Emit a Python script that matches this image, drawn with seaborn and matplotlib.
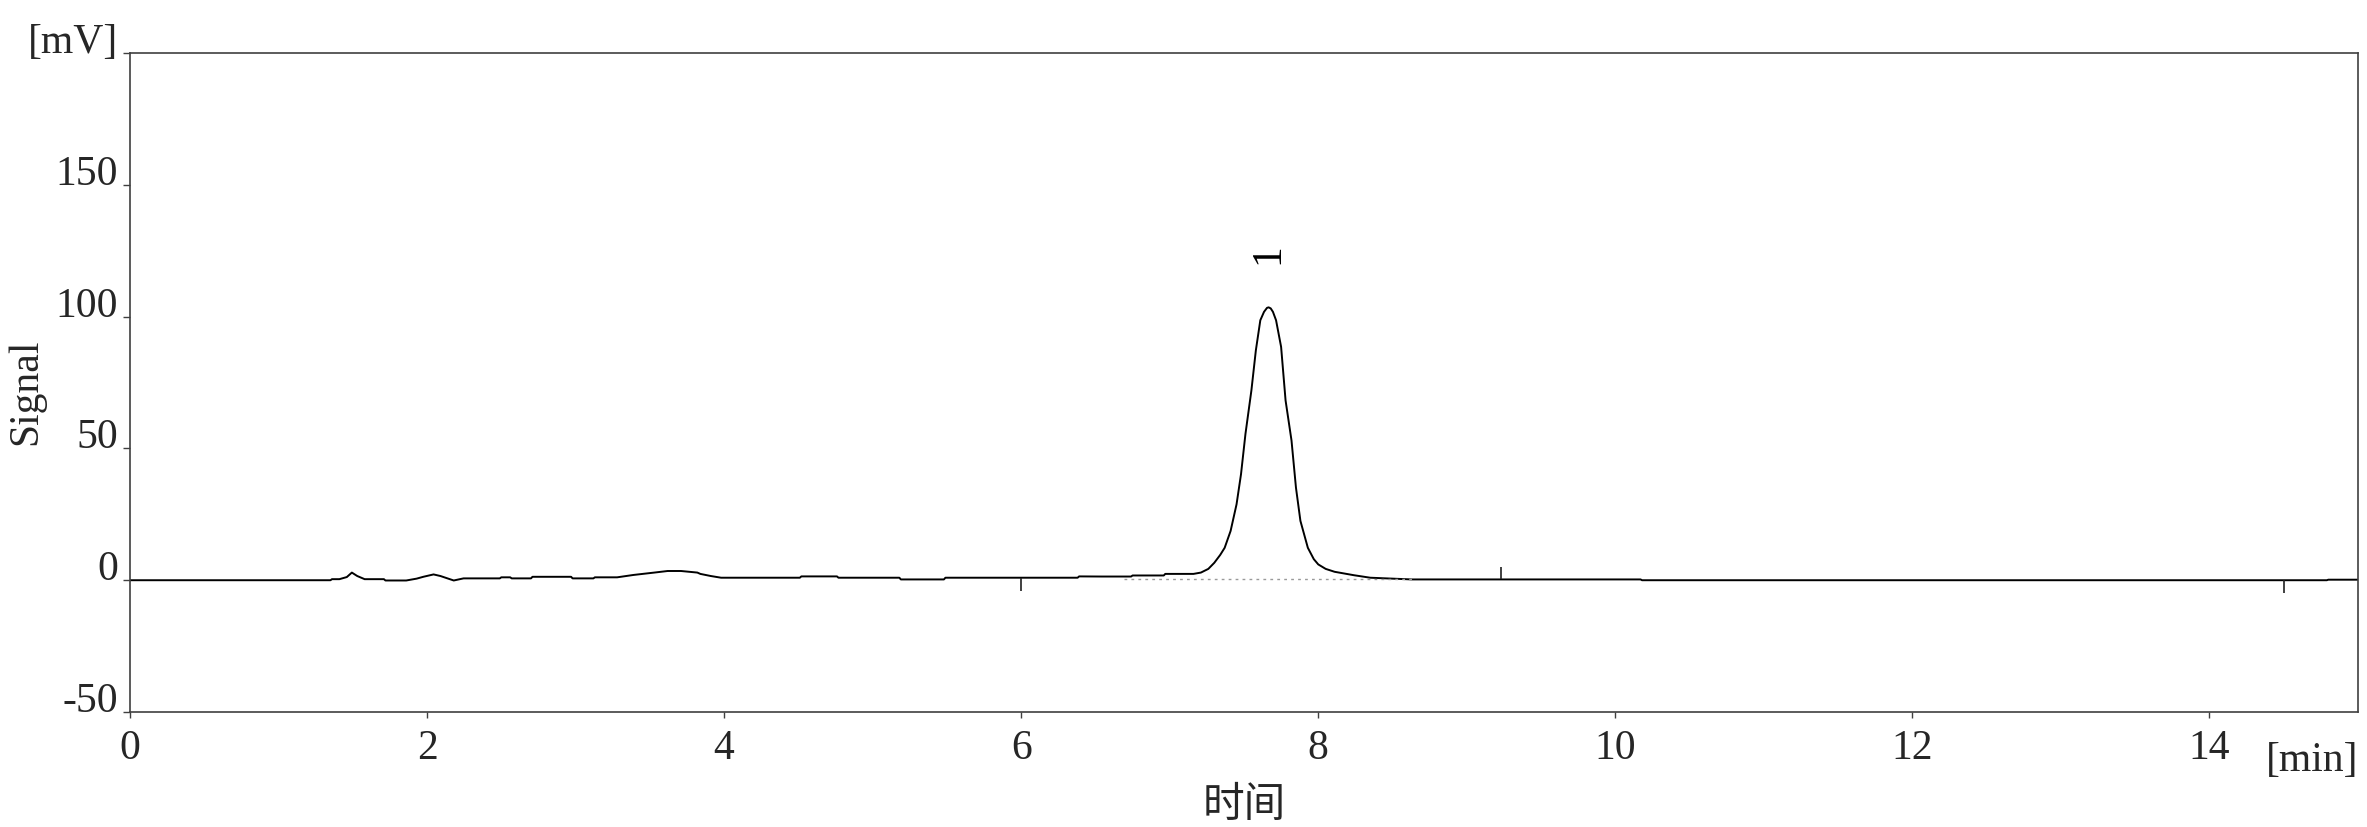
import matplotlib
matplotlib.use("Agg")
import matplotlib.pyplot as plt
import seaborn as sns
import pandas as pd

# ---- data ----
time_min = [0.0, 1.15, 1.35, 1.36, 1.41, 1.46, 1.494, 1.53, 1.58, 1.71, 1.72, 1.86, 1.93, 1.975,
            2.044, 2.09, 2.18, 2.246, 2.49, 2.50, 2.56, 2.57, 2.70, 2.71, 2.97, 2.98, 3.12, 3.13,
            3.28, 3.39, 3.53, 3.62, 3.71, 3.82, 3.84, 3.91, 3.98, 4.51, 4.52, 4.76, 4.77, 5.18,
            5.19, 5.48, 5.49, 6.38, 6.39, 6.54, 6.74, 6.75, 6.96, 6.97, 7.16, 7.21, 7.26, 7.30, 7.34, 7.37,
            7.41, 7.45, 7.48, 7.51, 7.55, 7.58, 7.61, 7.635, 7.655, 7.666, 7.68, 7.695, 7.716, 7.75, 7.78, 7.82,
            7.85, 7.88, 7.93, 7.97, 8.00, 8.05, 8.11, 8.24, 8.35, 8.63, 10.17, 10.18, 14.79, 14.80, 15.0]
signal_mv = [0.0, 0.0, 0.0, 0.4, 0.4, 1.2, 2.9, 1.6, 0.4, 0.4, -0.1, -0.1, 0.6, 1.3,
             2.2, 1.6, -0.1, 0.7, 0.7, 1.1, 1.1, 0.7, 0.7, 1.3, 1.3, 0.7, 0.7, 1.1,
             1.1, 2.0, 2.9, 3.5, 3.5, 2.9, 2.4, 1.6, 0.95, 0.95, 1.45, 1.45, 0.95, 0.95,
             0.3, 0.3, 0.95, 0.95, 1.45, 1.4, 1.4, 1.8, 1.8, 2.4, 2.4, 2.9, 4.3, 6.6, 9.6, 12.3,
             18.7, 28.8, 40.2, 55.5, 72.0, 87.2, 98.6, 101.8, 103.3, 103.5, 103.1, 101.8, 98.6, 88.5, 68.2, 53.0,
             35.1, 22.5, 12.3, 8.0, 6.0, 4.3, 3.2, 1.9, 0.95, 0.3, 0.3, 0.0, 0.0, 0.2, 0.2]

# integration baseline of peak 1
peak_base_t = [6.69, 8.63]
peak_base_v = [0.3, 0.3]

# peak annotation
peak_names = ["1"]
peak_label_t = [7.665]
peak_label_v = [124]

# event marks on the trace
event_t = [6.0, 9.227, 14.5]
event_from = [0.8, 0.3, 0.0]
event_to = [-4.1, 5.1, -5.0]

x_ticks = [0, 2, 4, 6, 8, 10, 12, 14]
x_tick_labels = ["0", "2", "4", "6", "8", "10", "12", "14"]
y_ticks = [-50, 0, 50, 100, 150, 200]
y_tick_labels = ["-50", "0", "50", "100", "150", "[mV]"]

# ---- style ----
sns.set_style("white")
plt.rcParams["font.family"] = ["Liberation Serif", "Noto Sans CJK SC", "DejaVu Sans"]
FS = 30
plt.rcParams["font.size"] = FS

spine_col = "#404040"

fig = plt.figure(figsize=(23.67, 8.27), dpi=100)
ax = fig.add_axes([0.0549, 0.139, 0.9413, 0.797])

df = pd.DataFrame({"t": time_min, "v": signal_mv})
sns.lineplot(data=df, x="t", y="v", ax=ax, color="black", linewidth=1.4,
             estimator=None, sort=False)

ax.plot(peak_base_t, peak_base_v, color="#9a9a9a", linewidth=1.0, linestyle=(0, (2, 3)))
ax.vlines(event_t, event_from, event_to, color="#202020", linewidth=1.2)

for name, t, v in zip(peak_names, peak_label_t, peak_label_v):
    ax.text(t, v, name, rotation=90, ha="center", va="center", fontsize=FS, color="black")

ax.set_xlim(0, 15)
ax.set_ylim(-50, 200)
ax.set_xticks(x_ticks)
ax.set_xticklabels(x_tick_labels)
ax.set_yticks(y_ticks)
ax.set_yticklabels(y_tick_labels)
for lab in ax.get_yticklabels():
    lab.set_verticalalignment("baseline")

ax.tick_params(axis="x", direction="out", length=4.5, width=1.0, color=spine_col,
               pad=8.0, labelsize=FS, bottom=True)
ax.tick_params(axis="y", direction="out", length=5, width=1.0, color=spine_col,
               pad=3.5, labelsize=FS, left=True)

for sp in ax.spines.values():
    sp.set_color(spine_col)
    sp.set_linewidth(1.2)
    sp.set_visible(True)

ax.set_xlabel("时间", fontsize=FS)
ax.xaxis.set_label_coords(0.5, -0.115)
ax.set_ylabel("Signal", fontsize=FS)
ax.yaxis.set_label_coords(-0.038, 0.486)

ax.text(1.0, -0.045, "[min]", transform=ax.transAxes, ha="right", va="top", fontsize=FS)

fig.savefig("out.png", dpi=100, facecolor="white")
